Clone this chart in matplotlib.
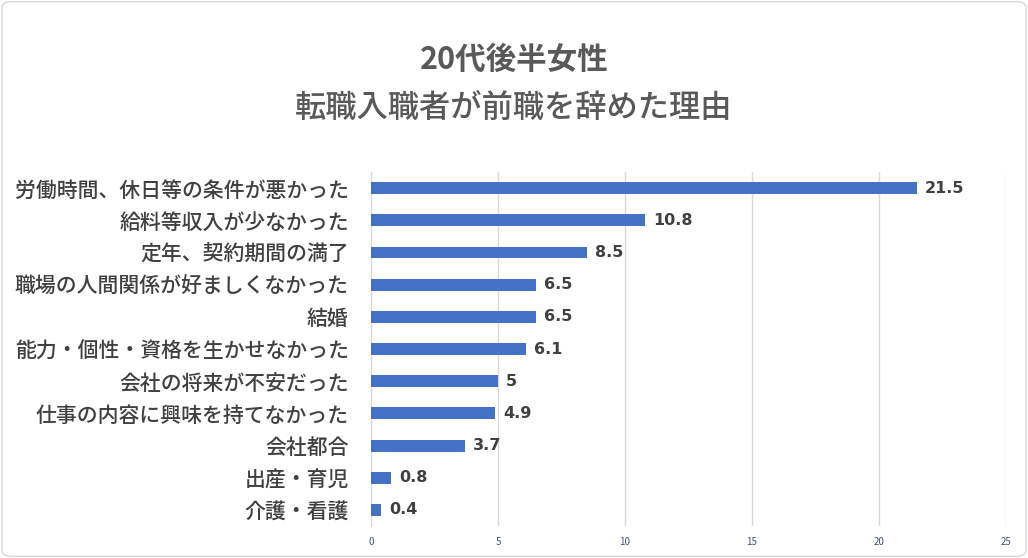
import matplotlib.pyplot as plt
from matplotlib.patches import FancyBboxPatch

plt.rcParams['font.family'] = ['Noto Sans CJK JP', 'DejaVu Sans']

categories = ['労働時間、休日等の条件が悪かった', '給料等収入が少なかった', '定年、契約期間の満了',
              '職場の人間関係が好ましくなかった', '結婚', '能力・個性・資格を生かせなかった',
              '会社の将来が不安だった', '仕事の内容に興味を持てなかった', '会社都合',
              '出産・育児', '介護・看護']
values = [21.5, 10.8, 8.5, 6.5, 6.5, 6.1, 5, 4.9, 3.7, 0.8, 0.4]
value_labels = ['21.5', '10.8', '8.5', '6.5', '6.5', '6.1', '5', '4.9', '3.7', '0.8', '0.4']
xticks = [0, 5, 10, 15, 20, 25]

fig = plt.figure(figsize=(10.28, 5.58), dpi=100)
ax = fig.add_axes([0.3609, 0.0573, 0.6177, 0.6344])

y = list(range(len(categories)))[::-1]
ax.barh(y, values, height=0.37, color='#4472C4', zorder=3)
for yi, v, lab in zip(y, values, value_labels):
    ax.text(v + 0.3, yi, lab, va='center', ha='left', fontsize=11.5,
            fontweight='bold', color='#404040', family=['DejaVu Sans'])

ax.set_xlim(0, 25)
ax.set_ylim(-0.5, len(categories) - 0.5)
ax.set_xticks(xticks)
ax.set_xticklabels([str(t) for t in xticks], fontsize=7, color='#44546A')
ax.set_yticks(y)
ax.set_yticklabels(categories, fontsize=15, color='#404040', fontweight='medium')
ax.tick_params(axis='both', length=0)
ax.tick_params(axis='x', pad=8)
ax.tick_params(axis='y', pad=16)
ax.grid(axis='x', color='#D9D9D9', linewidth=1, zorder=0)
for s in ['top', 'right', 'bottom']:
    ax.spines[s].set_visible(False)
ax.spines['left'].set_color('#D9D9D9')

fig.text(0.5, 1 - 60 / 558, '20代後半女性', ha='center', va='center',
         fontsize=22, color='#595959', fontweight='bold')
fig.text(0.5, 1 - 108 / 558, '転職入職者が前職を辞めた理由', ha='center', va='center',
         fontsize=22.5, color='#595959', fontweight='medium')

border = FancyBboxPatch((0.002, 0.003), 0.996, 0.994, boxstyle='round,pad=0,rounding_size=0.01',
                        transform=fig.transFigure, fill=False, edgecolor='#D9D9D9', linewidth=1)
fig.patches.append(border)

fig.savefig('out.png', dpi=100)
